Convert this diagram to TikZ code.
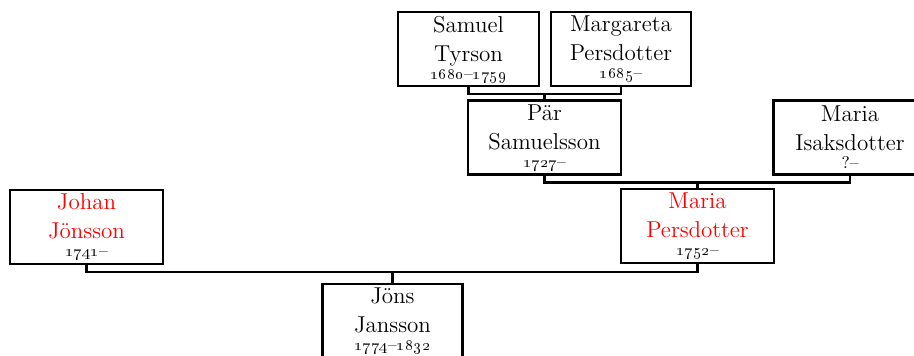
\documentclass[tikz,border=0pt]{standalone}
\newcommand{\os}[1]{\oldstylenums{#1}}
\begin{document}
\begin{tikzpicture}
[x=0.5pt,y=-0.5pt,
  lineDecorate/.style={-,line width=1.2pt},%
  personDecorate/.style={shape=rectangle,draw,line width=1.2pt,align=center,
    inner sep=0pt,minimum height=37pt,font=\fontsize{11.5}{14.5}\selectfont}]
\useasboundingbox (0,0) rectangle (914,356);
%% persons
\foreach \nodename/\x/\y/\w/\col/\first/\last/\years in {
  samuel/468.5/49/70.5/black/Samuel/Tyrson/\os{1680}--\os{1759},
  margareta/621/49/70/black/Margareta/Persdotter/\os{1685}--,
  paer/544.5/137.5/76.5/black/Pär/Samuelsson/\os{1727}--,
  mariaI/850/137.5/76.5/black/Maria/Isaksdotter/?--,
  johan/86.5/227/76.5/red/Johan/Jönsson/\os{1741}--,
  mariaP/697.5/226/76.5/red/Maria/Persdotter/\os{1752}--,
  jons/392.5/321/70/black/Jöns/Jansson/\os{1774}--\os{1832}}
{
  \node (\nodename) at (\x,\y) [personDecorate,minimum width=\w pt,text=\col]
    {\first\\\last\\[-5.5pt]{\color{black}\fontsize{8.5}{10}\selectfont\years}};
}
%% couples and children
\foreach \father/\mother/\child in {
  samuel/margareta/paer, paer/mariaI/mariaP, johan/mariaP/jons}
{
  \draw[lineDecorate] (\father.south) -- ++(0,7) coordinate (bar) -| (\mother.south);
  \draw[lineDecorate] (\child.north) -- (\child.north |- bar);
}
\end{tikzpicture}
\end{document}
